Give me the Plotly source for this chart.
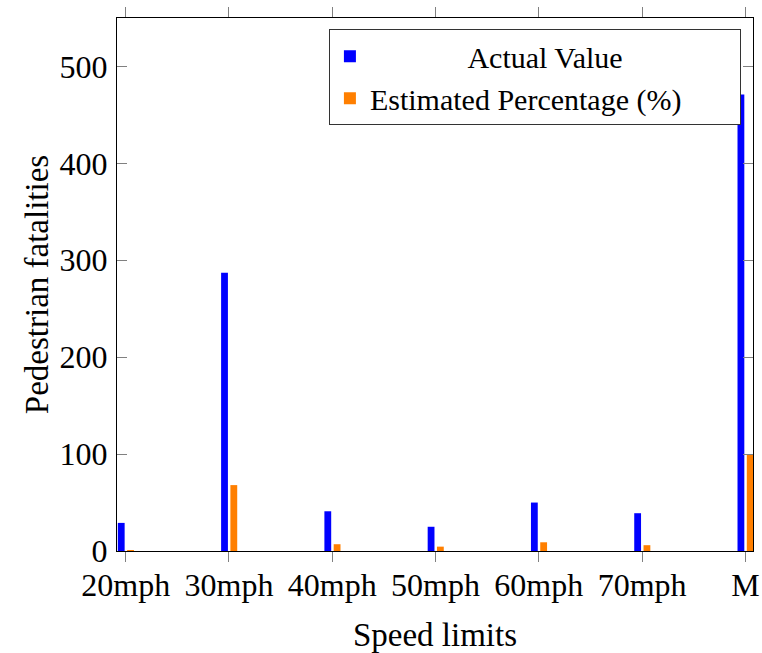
import plotly.graph_objects as go

categories = ["20mph", "30mph", "40mph", "50mph", "60mph", "70mph", "M"]
actual_value = [29, 287, 41, 25, 50, 39, 471]
estimated_pct = [1, 68, 7, 4.5, 9, 6, 100]
y_ticks = [0, 100, 200, 300, 400, 500]

FONT = "Liberation Serif"
NB = "\u00a0"

fig = go.Figure()
fig.add_trace(go.Bar(
    x=categories, y=actual_value, name=NB * 13 + "Actual Value",
    width=0.066, offset=-0.076,
    marker=dict(color="#0000FF", line=dict(width=0)),
))
fig.add_trace(go.Bar(
    x=categories, y=estimated_pct, name="Estimated Percentage (%)" + NB * 7,
    width=0.066, offset=0.014,
    marker=dict(color="#FF7F00", line=dict(width=0)),
))

fig.update_layout(
    width=762, height=653,
    margin=dict(l=117, r=9, t=18, b=102, autoexpand=False),
    paper_bgcolor="white", plot_bgcolor="white",
    font=dict(family=FONT, size=32, color="black"),
    barmode="overlay",
    showlegend=True,
    legend=dict(
        x=0.981, y=0.979, xanchor="right", yanchor="top",
        bgcolor="white", bordercolor="#333333", borderwidth=1,
        font=dict(family=FONT, size=30, color="black"),
        traceorder="normal", tracegroupgap=0,
    ),
    xaxis=dict(
        type="category", categoryorder="array", categoryarray=categories,
        range=[-0.084, 6.074], automargin=False,
        showline=True, linecolor="black", linewidth=1, mirror="ticks",
        ticks="outside", ticklen=10, tickcolor="#808080", tickwidth=1,
        ticklabelstandoff=-4,
        showgrid=False, zeroline=False,
        title=dict(text="Speed limits", standoff=20, font=dict(size=33)),
        tickfont=dict(size=32),
    ),
    yaxis=dict(
        range=[0, 550], automargin=False,
        tickmode="array", tickvals=y_ticks, ticktext=[str(v) for v in y_ticks],
        showline=True, linecolor="black", linewidth=1, mirror="ticks",
        ticks="inside", ticklen=10, tickcolor="#808080", tickwidth=1,
        ticklabelstandoff=2,
        showgrid=False, zeroline=False,
        title=dict(text="Pedestrian fatalities", standoff=1, font=dict(size=33)),
        tickfont=dict(size=32),
    ),
)

fig.write_html(
    "out.html",
    config={"displayModeBar": False},
    post_script="document.body.style.margin='0';document.body.style.padding='0';",
)
